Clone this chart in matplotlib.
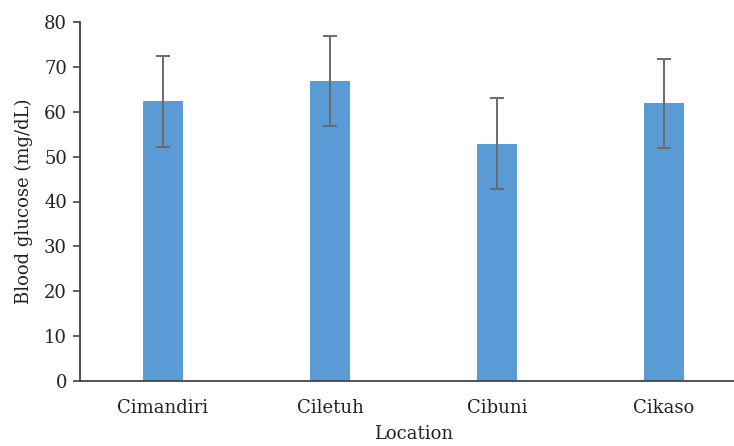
import matplotlib
matplotlib.use('Agg')
import matplotlib.pyplot as plt
import numpy as np

plt.rcParams['font.family'] = 'DejaVu Serif'

locations = ['Cimandiri', 'Ciletuh', 'Cibuni', 'Cikaso']
glucose = [62.3, 66.9, 52.9, 61.9]
glucose_err = [10.1, 10.0, 10.1, 9.9]

fig = plt.figure(figsize=(7.34, 4.46), dpi=100)
ax = fig.add_axes([79.5/734, 1-381/446, 668/734, 359/446])

x = np.arange(len(locations))
ax.bar(x, glucose, width=0.245, color='#5B9BD5', zorder=2)
ax.errorbar(x, glucose, yerr=glucose_err, fmt='none', ecolor='#6a6a6a',
            elinewidth=1.4, capsize=5, capthick=1.4, zorder=3)

ax.set_xlim(-0.5, 3.5)
ax.set_ylim(0, 80)
ax.set_yticks(np.arange(0, 81, 10))
ax.set_xticks(x)
ax.set_xticklabels(locations)
ax.tick_params(axis='x', length=0, pad=13, labelsize=13, colors='#222222')
ax.tick_params(axis='y', length=5, width=1.2, color='#444444', labelsize=13,
               labelcolor='#222222', pad=4)

for s in ['top', 'right']:
    ax.spines[s].set_visible(False)
for s in ['left', 'bottom']:
    ax.spines[s].set_color('#444444')
    ax.spines[s].set_linewidth(1.3)

ax.set_xlabel('Location', fontsize=13, color='#222222', labelpad=6)
ax.set_ylabel('Blood glucose (mg/dL)', fontsize=13, color='#222222', labelpad=8)

fig.savefig('out.png', dpi=100)
